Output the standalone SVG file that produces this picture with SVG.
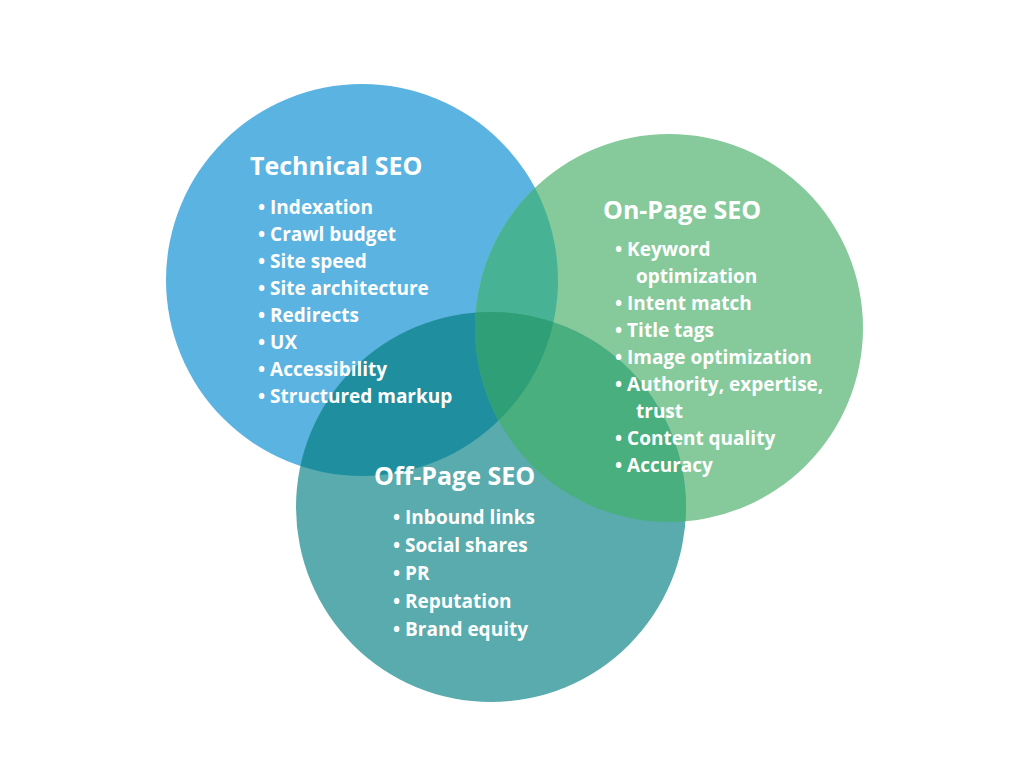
<svg xmlns="http://www.w3.org/2000/svg" width="1024" height="768" viewBox="0 0 1024 768">
<style>
text{font-family:"Open Sans","Liberation Sans",sans-serif;font-weight:bold;fill:#fff}
.t{font-size:25px}.i{font-size:19px}
</style>
<defs>
<clipPath id="cb"><circle cx="362" cy="280" r="196"/></clipPath>
<clipPath id="cg"><circle cx="669" cy="328" r="194"/></clipPath>
</defs>
<rect width="1024" height="768" fill="#fff"/>
<g id="circles">
<circle cx="362" cy="280" r="196" fill="#5AB3E0"/>
<circle cx="669" cy="328" r="194" fill="#86CA9C"/>
<circle cx="491" cy="507" r="195" fill="#5AABAD"/>
<circle cx="669" cy="328" r="194" fill="#48B394" clip-path="url(#cb)"/>
<circle cx="491" cy="507" r="195" fill="#1F8FA0" clip-path="url(#cb)"/>
<circle cx="491" cy="507" r="195" fill="#4AAF7E" clip-path="url(#cg)"/>
<g clip-path="url(#cb)"><circle cx="491" cy="507" r="195" fill="#2F9F78" clip-path="url(#cg)"/></g>
</g>
<g id="technical">
<text class="t" x="250" y="175">Technical SEO</text>
<text class="i"><tspan x="258" y="214">•  Indexation</tspan><tspan x="258" y="241">•  Crawl budget</tspan><tspan x="258" y="268">•  Site speed</tspan><tspan x="258" y="295">•  Site architecture</tspan><tspan x="258" y="322">•  Redirects</tspan><tspan x="258" y="349">•  UX</tspan><tspan x="258" y="376">•  Accessibility</tspan><tspan x="258" y="403">•  Structured markup</tspan></text>
</g>
<g id="onpage">
<text class="t" x="603" y="219">On-Page SEO</text>
<text class="i"><tspan x="615" y="256">•  Keyword</tspan><tspan x="636" y="283">optimization</tspan><tspan x="615" y="310">•  Intent match</tspan><tspan x="615" y="337">•  Title tags</tspan><tspan x="615" y="364">•  Image optimization</tspan><tspan x="615" y="391">•  Authority,  expertise,</tspan><tspan x="636" y="418">trust</tspan><tspan x="615" y="445">•  Content quality</tspan><tspan x="615" y="472">•  Accuracy</tspan></text>
</g>
<g id="offpage">
<text class="t" x="374" y="485">Off-Page SEO</text>
<text class="i"><tspan x="393" y="524">•  Inbound links</tspan><tspan x="393" y="552">•  Social shares</tspan><tspan x="393" y="580">•  PR</tspan><tspan x="393" y="608">•  Reputation</tspan><tspan x="393" y="636">•  Brand equity</tspan></text>
</g>
<g id="connectors"/>
</svg>
